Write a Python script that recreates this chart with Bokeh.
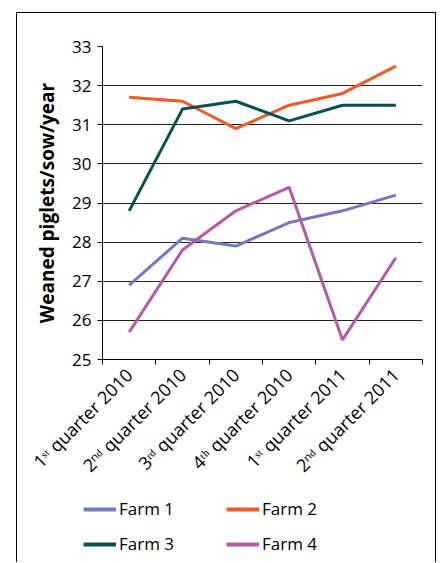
import math
from bokeh.plotting import figure
from bokeh.layouts import column
from bokeh.models import (Range1d, FixedTicker, Legend, LegendItem, InlineStyleSheet)
from bokeh.embed import file_html
from bokeh.resources import INLINE

categories = ["1ˢᵗ quarter 2010", "2ⁿᵈ quarter 2010", "3ʳᵈ quarter 2010",
              "4ᵗʰ quarter 2010", "1ˢᵗ quarter 2011", "2ⁿᵈ quarter 2011"]
farm1 = [26.9, 28.1, 27.9, 28.5, 28.8, 29.2]
farm2 = [31.7, 31.6, 30.9, 31.5, 31.8, 32.5]
farm3 = [28.8, 31.4, 31.6, 31.1, 31.5, 31.5]
farm4 = [25.7, 27.8, 28.8, 29.4, 25.5, 27.6]
series_names = ["Farm 1", "Farm 2", "Farm 3", "Farm 4"]
series_colors = ["#7478c0", "#f05a28", "#0b4f4f", "#b55ba4"]
y_ticks = [25, 26, 27, 28, 29, 30, 31, 32, 33]
y_label = "Weaned piglets/sow/year"

FONT = "Open Sans"
n = len(categories)
xs = [i + 0.5 for i in range(n)]
series = [farm1, farm2, farm3, farm4]

# ---- main chart ----
p = figure(width=441, height=489, output_backend="svg", toolbar_location=None,
           x_range=Range1d(0, n), y_range=Range1d(y_ticks[0], y_ticks[-1]),
           min_border_left=102, min_border_right=19, min_border_top=46,
           min_border_bottom=130)
p.frame_align = False
p.outline_line_color = None
p.background_fill_color = "white"
p.border_fill_color = "white"

for vals, col in zip(series, series_colors):
    p.line(xs, vals, line_color=col, line_width=3)

p.xaxis.ticker = FixedTicker(ticks=xs, minor_ticks=list(range(n + 1)))
p.xaxis.major_label_overrides = {x: c for x, c in zip(xs, categories)}
p.xaxis.major_tick_out = 0
p.xaxis.major_tick_in = 0
p.xaxis.minor_tick_out = 5
p.xaxis.minor_tick_in = 0
p.xaxis.minor_tick_line_color = "black"
p.xaxis.axis_line_color = "black"
p.xaxis.major_label_orientation = math.pi / 4
p.xaxis.major_label_text_font = FONT
p.xaxis.major_label_text_font_size = "18px"
p.xaxis.major_label_text_color = "black"
p.xaxis.major_label_standoff = 7

p.yaxis.ticker = FixedTicker(ticks=y_ticks)
p.yaxis.major_tick_out = 5
p.yaxis.major_tick_in = 0
p.yaxis.minor_tick_line_color = None
p.yaxis.major_tick_line_color = "black"
p.yaxis.axis_line_color = "black"
p.yaxis.major_label_text_font = FONT
p.yaxis.major_label_text_font_size = "17px"
p.yaxis.major_label_text_color = "black"
p.yaxis.major_label_standoff = 6
p.yaxis.axis_label = y_label
p.yaxis.axis_label_text_font = FONT
p.yaxis.axis_label_text_font_size = "19px"
p.yaxis.axis_label_text_font_style = "bold"
p.yaxis.axis_label_text_color = "black"
p.yaxis.axis_label_standoff = 9

p.xgrid.grid_line_color = None
p.ygrid.grid_line_color = "#222222"
p.ygrid.grid_line_width = 1
p.ygrid.ticker = FixedTicker(ticks=y_ticks)

# ---- legend strip (lines lie outside its ranges; only the legend shows) ----
p2 = figure(width=441, height=74, output_backend="svg", toolbar_location=None,
            x_range=Range1d(0, n), y_range=Range1d(0, 1),
            min_border_left=0, min_border_right=0, min_border_top=0,
            min_border_bottom=0)
p2.frame_align = False
p2.axis.visible = False
p2.grid.visible = False
p2.outline_line_color = None
p2.background_fill_color = None
p2.border_fill_color = None
leg_items = []
for name, vals, col in zip(series_names, series, series_colors):
    r = p2.line(xs, vals, line_color=col, line_width=4)
    leg_items.append(LegendItem(label=name, renderers=[r]))

legend = Legend(items=leg_items, orientation="horizontal", ncols=2, location=(83, 8),
                glyph_width=33, glyph_height=20, label_height=20, label_width=95,
                label_standoff=3, spacing=12, padding=0, margin=0,
                border_line_color=None, background_fill_alpha=0,
                label_text_font=FONT, label_text_font_size="17px",
                label_text_color="black")
p2.add_layout(legend, "center")

layout = column(p, p2, spacing=0)
layout.stylesheets = [InlineStyleSheet(css="""
:host::after { content: ""; position: absolute; left: 16px; top: 12px;
  width: 418px; height: 549px; border: 1px solid #000; border-bottom: none;
  pointer-events: none; z-index: 10; }
""")]

open("out.html", "w").write(file_html(layout, INLINE))
